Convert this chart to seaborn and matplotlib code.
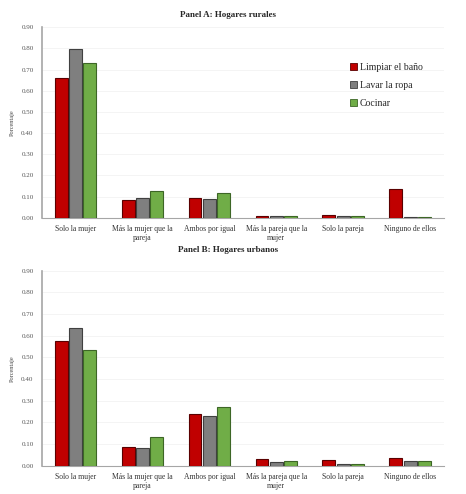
import pandas as pd
import matplotlib.pyplot as plt
import seaborn as sns

categorias = ['Solo la mujer', 'Más la mujer que la\npareja', 'Ambos por igual',
              'Más la pareja que la\nmujer', 'Solo la pareja', 'Ninguno de ellos']
tareas = ['Limpiar el baño', 'Lavar la ropa', 'Cocinar']

rural_bano = [0.662, 0.085, 0.096, 0.007, 0.012, 0.137]
rural_ropa = [0.795, 0.096, 0.087, 0.007, 0.010, 0.005]
rural_cocinar = [0.733, 0.128, 0.117, 0.009, 0.010, 0.005]

urbano_bano = [0.577, 0.085, 0.238, 0.032, 0.029, 0.036]
urbano_ropa = [0.635, 0.082, 0.229, 0.020, 0.009, 0.022]
urbano_cocinar = [0.535, 0.131, 0.273, 0.021, 0.009, 0.021]

colores = ['#C00000', '#7F7F7F', '#70AD47']
bordes = ['#5a0000', '#404040', '#3d6626']


def armar(bano, ropa, cocinar):
    filas = []
    for tarea, vals in zip(tareas, [bano, ropa, cocinar]):
        for c, v in zip(categorias, vals):
            filas.append({'Categoria': c, 'Tarea': tarea, 'Porcentaje': v})
    return pd.DataFrame(filas)


df_rural = armar(rural_bano, rural_ropa, rural_cocinar)
df_urbano = armar(urbano_bano, urbano_ropa, urbano_cocinar)

sns.set_style('white')
plt.rcParams['font.family'] = ['Liberation Serif', 'DejaVu Serif']

fig = plt.figure(figsize=(4.66, 4.94), dpi=100)
ax1 = fig.add_axes([0.09, 0.559, 0.862, 0.386])
ax2 = fig.add_axes([0.09, 0.057, 0.862, 0.395])

for ax, df, titulo, ytit in [(ax1, df_rural, 'Panel A: Hogares rurales', 0.970),
                             (ax2, df_urbano, 'Panel B: Hogares urbanos', 0.494)]:
    sns.barplot(data=df, x='Categoria', y='Porcentaje', hue='Tarea',
                palette=colores, saturation=1, width=0.64, gap=0.1, ax=ax,
                legend=False, linewidth=0.8, zorder=3)
    for i, cont in enumerate(ax.containers):
        for p in cont:
            p.set_edgecolor(bordes[i])
    ax.set_ylim(0, 0.9)
    ax.set_xlim(-0.5, 5.5)
    ax.set_yticks([i / 10 for i in range(10)])
    ax.set_yticklabels([f'{i / 10:.2f}' for i in range(10)], fontsize=5, color='#555555')
    ax.tick_params(axis='x', labelsize=5.5, colors='#333333', length=0, pad=5)
    ax.tick_params(axis='y', length=0, pad=6)
    ax.yaxis.grid(True, color='#f2f2f2', linewidth=0.6, zorder=0)
    ax.set_xlabel('')
    ax.set_ylabel('Porcentaje', fontsize=4.5, color='#444444', labelpad=5)
    for s in ['top', 'right']:
        ax.spines[s].set_visible(False)
    ax.spines['left'].set_color('#a6a6a6')
    ax.spines['left'].set_linewidth(1.2)
    ax.spines['bottom'].set_color('#a6a6a6')
    ax.spines['bottom'].set_linewidth(0.8)
    fig.text(0.49, ytit, titulo, ha='center', va='center', fontsize=6.5, fontweight='bold')

handles = [plt.Rectangle((0, 0), 1, 1, facecolor=c, edgecolor=b, linewidth=0.6)
           for c, b in zip(colores, bordes)]
ax1.legend(handles, tareas, loc='upper left', bbox_to_anchor=(0.745, 0.86),
           frameon=False, fontsize=7, handlelength=0.7, handleheight=0.7,
           handletextpad=0.3, labelspacing=0.95)

fig.savefig('out.png', dpi=100, facecolor='white')
